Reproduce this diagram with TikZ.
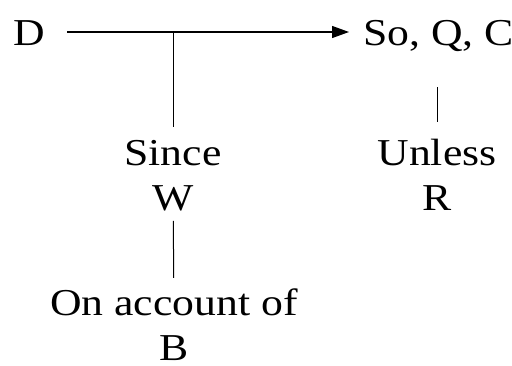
\documentclass[tikz,border=0pt]{standalone}
\usepackage{fontspec}
\setmainfont[FakeStretch=1.15]{Liberation Serif}
\usetikzlibrary{arrows.meta}
\begin{document}
\begin{tikzpicture}[x=0.5pt,y=-0.5pt,
  lbl/.style={font=\fontsize{19}{22.5}\selectfont, align=center, inner sep=0pt},
  arr/.style={-{Triangle[length=8.5pt,width=6pt]}, line width=0.6pt},
  ln/.style={line width=0.5pt}
]
\useasboundingbox (0,0) rectangle (512,365);
\node[lbl, anchor=base] (D) at (29,45) {D};
\node[lbl, anchor=base west] (C) at (363,45) {So, Q, C};
\node[lbl, anchor=base] (W) at (173,210) {Since\\W};
\node[lbl, anchor=base] (R) at (437,210) {Unless\\R};
\node[lbl, anchor=base] (B) at (174,360) {On account of\\B};
\coordinate (jW) at (173,32);
\coordinate (rtop) at (437,87);
\draw[arr, shorten <=11pt, shorten >=7pt] (D.east |- jW) -- (C.west |- jW);
\draw[ln, shorten >=6pt] (jW) -- (W);
\draw[ln, shorten >=8pt] (rtop) -- (R);
\draw[ln, shorten <=5pt, shorten >=5pt] (W) -- (B);
\end{tikzpicture}
\end{document}
